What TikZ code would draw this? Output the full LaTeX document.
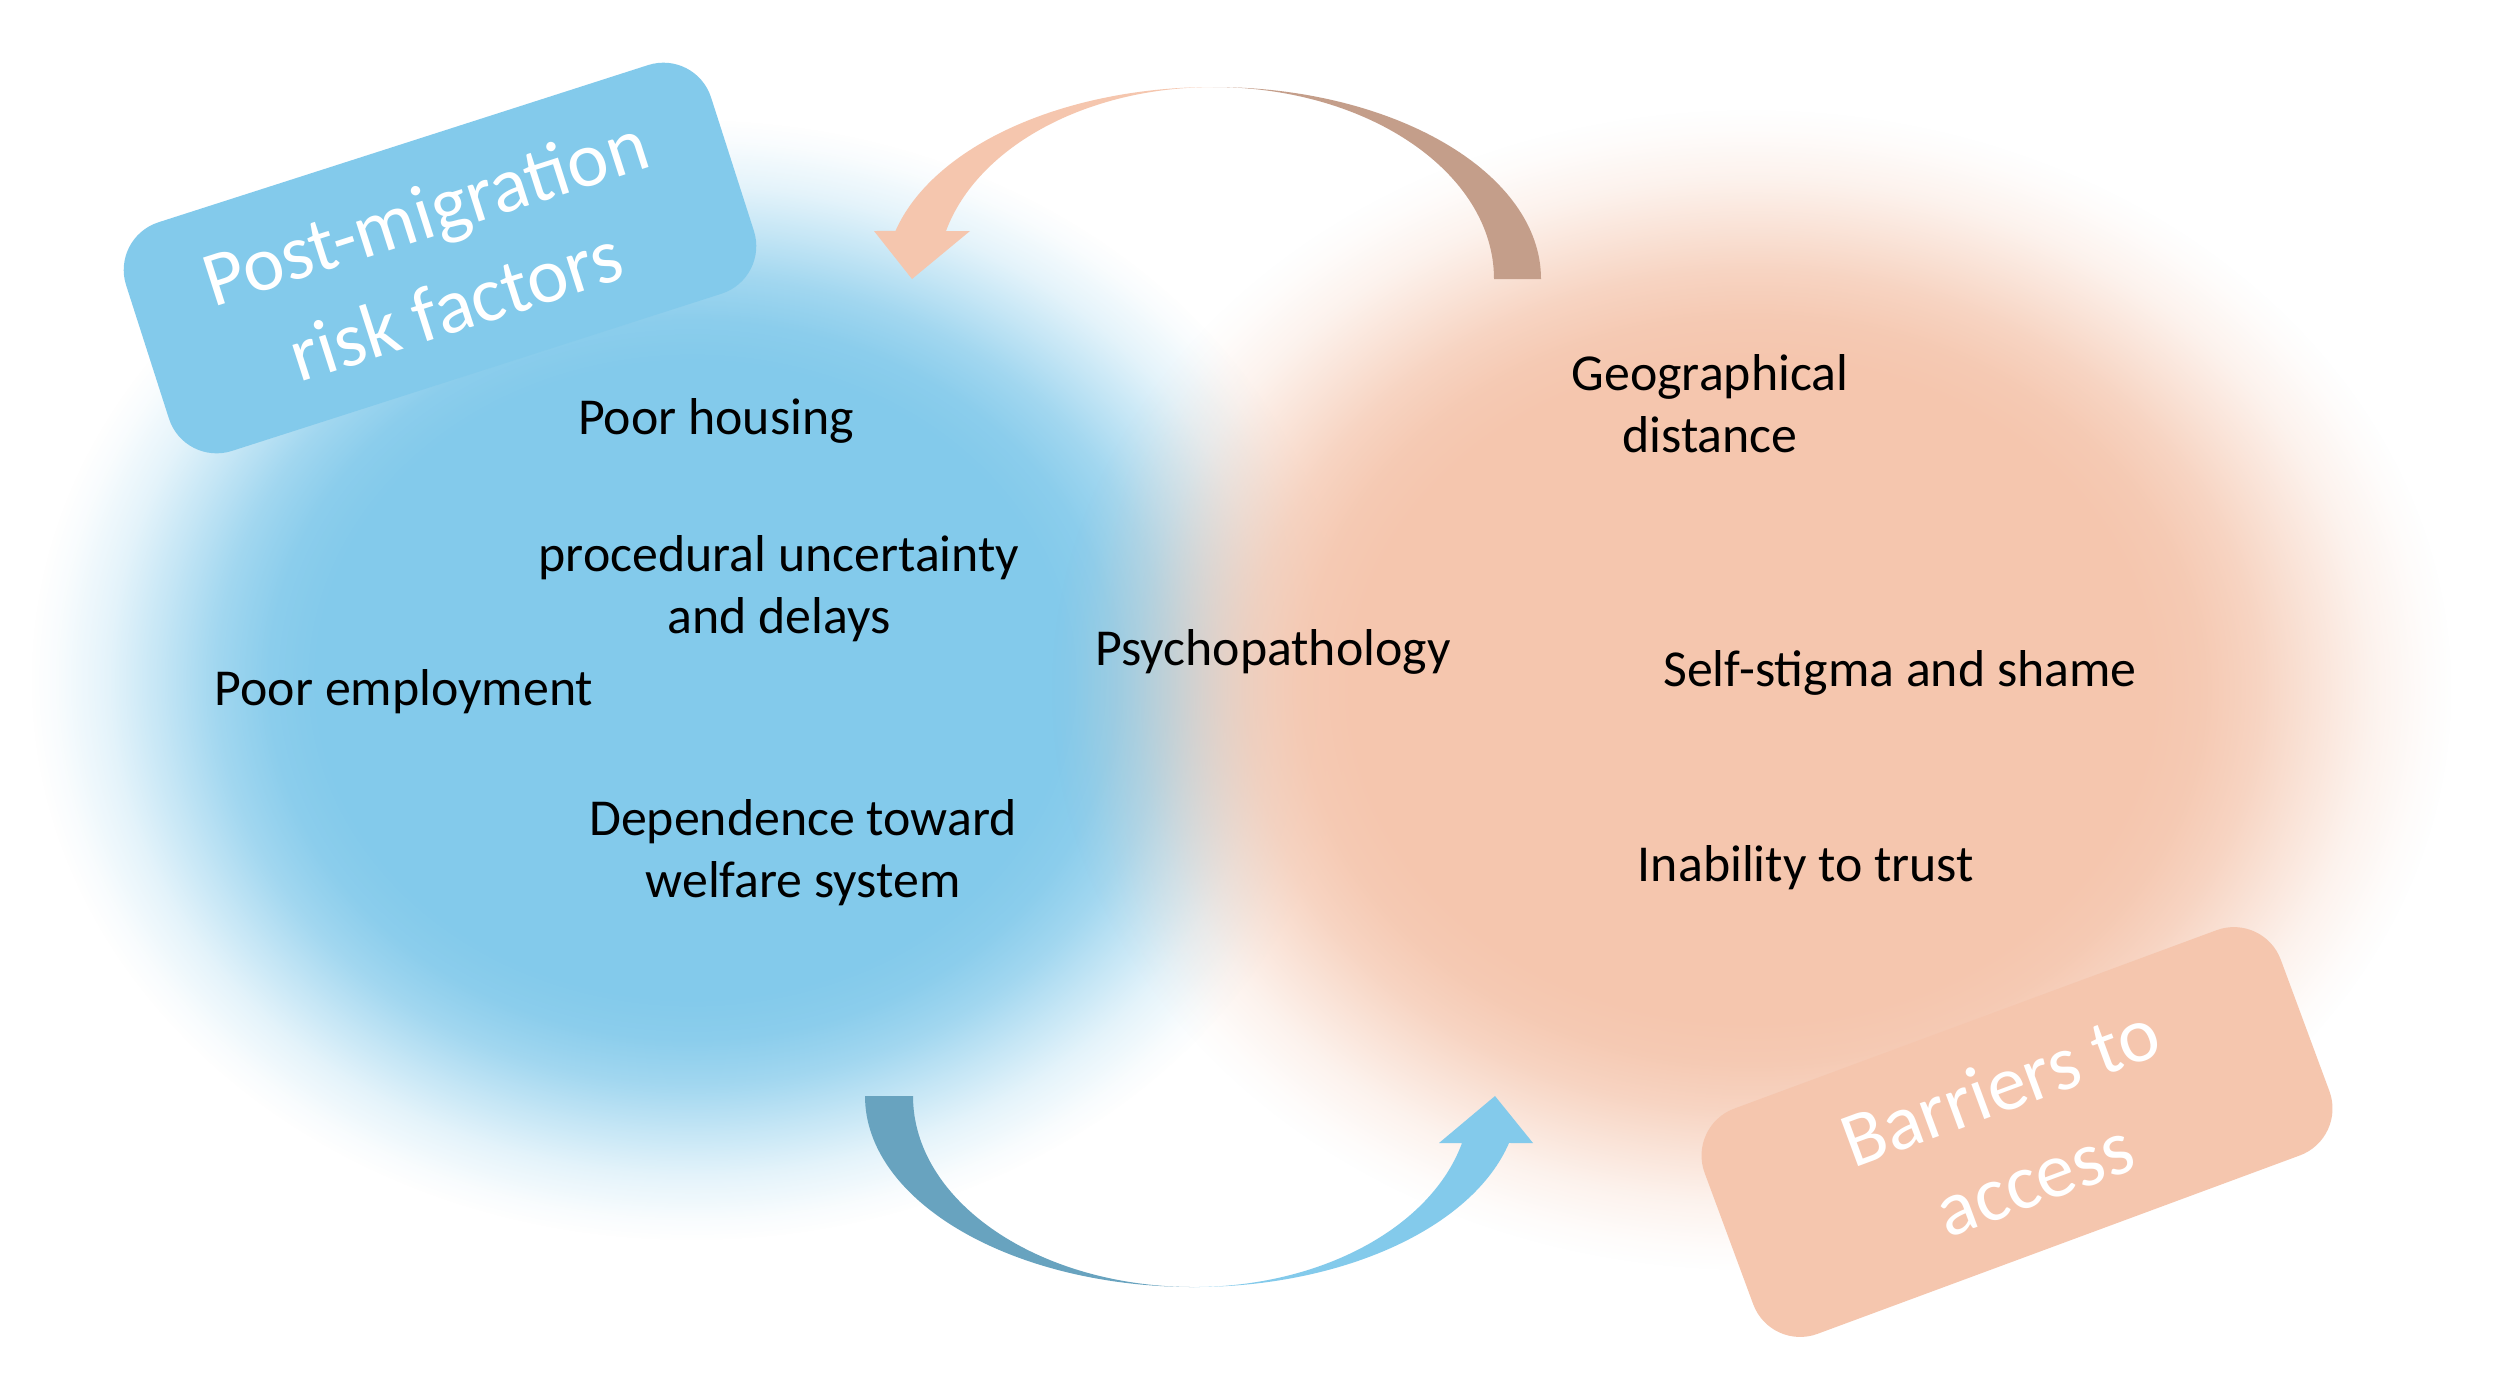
\documentclass[tikz,border=0pt]{standalone}
\usepackage{fontspec}
\setmainfont{Carlito}
\usetikzlibrary{fadings}
\definecolor{cblue}{RGB}{131,202,235}
\definecolor{corange}{RGB}{245,198,174}
\definecolor{cbrown}{RGB}{196,158,138}
\definecolor{cdarkblue}{RGB}{104,163,191}
\pgfdeclareradialshading{blobfadeshading}{\pgfpointorigin}{color(0bp)=(white); color(14bp)=(white); color(16bp)=(white!93!black); color(18bp)=(white!75!black); color(20bp)=(white!48!black); color(22bp)=(white!22!black); color(24bp)=(white!5!black); color(25bp)=(black); color(50bp)=(black)}
\pgfdeclarefading{blobfade}{\pgfuseshading{blobfadeshading}}
\begin{document}
\begin{tikzpicture}[x=0.01cm, y=-0.01cm,
  bodytext/.style={font=\fontsize{14.74}{17.7}\selectfont, align=center, inner sep=0pt, text=black},
  labelbox/.style={rounded corners=0.5cm, minimum width=6.14cm, minimum height=2.4cm, inner sep=0pt, text=white, align=center, font=\fontsize{22.2}{28}\selectfont},
  blob/.style={path fading=blobfade}]
\useasboundingbox (0,0) rectangle (2500,1384);
\fill[white] (0,0) rectangle (2500,1384);
% soft blobs
\fill[cblue, blob] (692,680) ellipse [x radius=660, y radius=560];
\fill[corange, blob] (1752,690) ellipse [x radius=700, y radius=580];
% top curved arrow (back, then front with head)
\fill[cbrown] (1541,279) arc[start angle=0, end angle=-90, x radius=328, y radius=192]
  arc[start angle=-90, end angle=0, x radius=281, y radius=192] -- cycle;
\fill[corange] (1213,87) arc[start angle=-90, end angle=-165.5, x radius=328, y radius=192]
  -- (874,231) -- (912,279) -- (970,231) -- (946,231)
  arc[start angle=-165.5, end angle=-90, x radius=276, y radius=192] -- cycle;
% bottom curved arrow
\fill[cdarkblue] (865,1096) arc[start angle=180, end angle=90, x radius=329, y radius=191]
  arc[start angle=90, end angle=180, x radius=281, y radius=191] -- cycle;
\fill[cblue] (1194,1287) arc[start angle=90, end angle=14.24, x radius=325, y radius=191]
  -- (1533,1143) -- (1495,1096) -- (1439,1143) -- (1462,1143)
  arc[start angle=14.24, end angle=90, x radius=277, y radius=191] -- cycle;
% label boxes
\node[labelbox, fill=cblue, rotate=17.8] (pmbox) at (440,258) {Post-migration\\risk factors};
\node[labelbox, fill=corange, rotate=20.3] (barbox) at (2017,1132) {Barriers to\\access};
% texts
\node[bodytext] (housing) at (716,421) {Poor housing};
\node[bodytext] (proc) at (779,589) {procedural uncertainty\\and delays};
\node[bodytext] (employ) at (404,692) {Poor employment};
\node[bodytext] (depend) at (803,853) {Dependence toward\\welfare system};
\node[bodytext] (psycho) at (1273,652) {Psychopathology};
\node[bodytext] (geo) at (1710,404) {Geographical\\distance};
\node[bodytext] (stigma) at (1900,673) {Self-stigma and shame};
\node[bodytext] (trust) at (1806,868) {Inability to trust};
\end{tikzpicture}
\end{document}
